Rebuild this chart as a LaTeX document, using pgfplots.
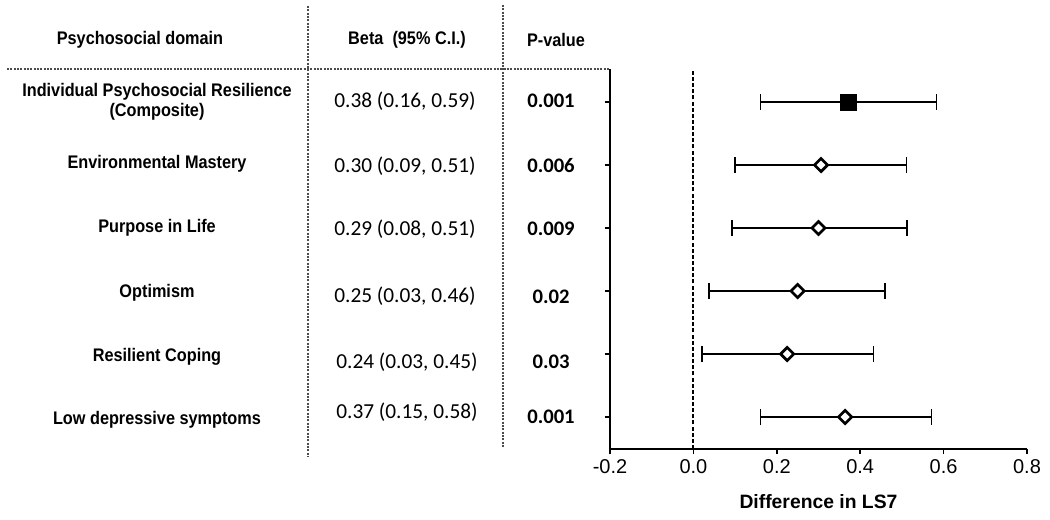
\documentclass[border=0pt]{standalone}
\usepackage{graphicx}
\usepackage{pgfplots}
\pgfplotsset{compat=1.18}
\usepackage{pgfplotstable}
\usepackage{fontspec}
\setmainfont{Liberation Sans}
\newfontfamily\calfont{Carlito}
\newcommand{\tall}[1]{\scalebox{1}[1.12]{#1}}

\pgfplotstableread{
x y ep em
0.372 6 0.211 0.211
}\composite
\pgfplotstableread{
x y ep em
0.306 5 0.205 0.207
0.300 4 0.213 0.208
0.250 3 0.210 0.212
0.225 2 0.207 0.204
0.364 1 0.207 0.203
}\domains

\begin{document}
\begin{tikzpicture}[x=0.75pt,y=0.75pt]
\useasboundingbox (0,0) rectangle (1050,519);
% table rules
\begin{scope}[gray!60!black, line width=0.8pt, dash pattern=on 1.6pt off 0.9pt]
\draw (7,450) -- (610,450);
\draw (308,513) -- (308,62);
\draw (503,514) -- (503,71);
\end{scope}
% headers
\begin{scope}[font=\bfseries\fontsize{12.2}{14}\selectfont]
\node at (140,479) {\tall{Psychosocial domain}};
\node at (407,479) {\tall{Beta\ \ (95\% C.I.)}};
\node at (556,479) {\tall{P-value}};
\node at (157,427) {\tall{Individual Psychosocial Resilience}};
\node at (157,407) {\tall{(Composite)}};
\node at (157,355) {\tall{Environmental Mastery}};
\node at (157,291) {\tall{Purpose in Life}};
\node at (157,226) {\tall{Optimism}};
\node at (157,162) {\tall{Resilient Coping}};
\node at (157,99) {\tall{Low depressive symptoms}};
\end{scope}
\begin{scope}[font=\calfont\fontsize{16}{18}\selectfont]
\node at (405,418) {0.38 (0.16, 0.59)};
\node at (405,353) {0.30 (0.09, 0.51)};
\node at (405,290) {0.29 (0.08, 0.51)};
\node at (405,223) {0.25 (0.03, 0.46)};
\node at (407,157) {0.24 (0.03, 0.45)};
\node at (407,107) {0.37 (0.15, 0.58)};
\end{scope}
\begin{scope}[font=\calfont\bfseries\fontsize{15.5}{17}\selectfont]
\node at (551,418) {0.001};
\node at (551,353) {0.006};
\node at (551,290) {0.009};
\node at (551,222) {0.02};
\node at (551,157) {0.03};
\node at (551,102) {0.001};
\end{scope}
\begin{axis}[
  at={(457.5pt,52.5pt)}, anchor=south west,
  width=312.75pt, height=285pt, scale only axis,
  xmin=-0.2, xmax=0.8, ymin=0.492, ymax=6.524,
  axis x line*=bottom, axis y line*=left,
  axis line style={line width=1.5pt, -},
  tick style={line width=1.3pt, black},
  tick align=outside, major tick length=4pt,
  xtick={-0.2,0,0.2,0.4,0.6,0.8},
  ytick={1,2,3,4,5,6}, yticklabels={},
  /pgf/number format/assume math mode=true,
  xticklabel style={/pgf/number format/.cd, fixed, fixed zerofill, precision=1},
  tick label style={font=\fontsize{15}{17}\selectfont},
  xlabel={Difference in LS7},
  xlabel style={font=\bfseries\fontsize{14.5}{16}\selectfont, at={(axis description cs:0.5,-0.139)}, anchor=center},
  clip=false,
]
\addplot[black, line width=1.5pt, dash pattern=on 3pt off 1.6pt] coordinates {(0,0.492) (0,6.524)};
\addplot[only marks, black, mark=square*, mark size=6pt,
  error bars/.cd, x dir=both, x explicit,
  error bar style={line width=1.3pt, black},
  error mark options={rotate=90, mark size=6pt, line width=1.3pt, black}]
  table[x=x, y=y, x error plus=ep, x error minus=em] {\composite};
\addplot[only marks, black, mark=square*, mark size=3.5pt,
  mark options={rotate=45, fill=white, line width=2pt},
  error bars/.cd, x dir=both, x explicit,
  error bar style={line width=1.3pt, black},
  error mark options={rotate=90, mark size=6pt, line width=1.3pt, black}]
  table[x=x, y=y, x error plus=ep, x error minus=em] {\domains};
\end{axis}
\end{tikzpicture}
\end{document}
